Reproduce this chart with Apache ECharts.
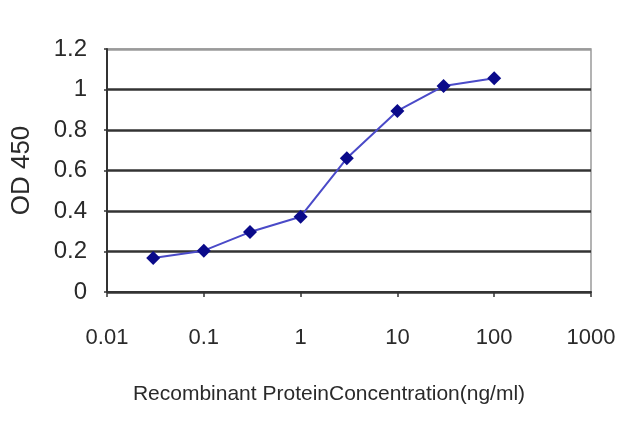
<!DOCTYPE html>
<html>
<head>
<meta charset="utf-8">
<script src="https://cdn.jsdelivr.net/npm/echarts@6/dist/echarts.min.js"></script>
<style>
  html, body { margin: 0; padding: 0; background: #fff; }
  #chart { width: 640px; height: 427px; }
</style>
</head>
<body>
<div id="chart"></div>
<script>
// concentration (ng/ml) and OD 450
let concentration = [0.03, 0.1, 0.3, 1, 3, 10, 30, 100];
let od450 = [0.168, 0.204, 0.296, 0.372, 0.66, 0.894, 1.017, 1.055];
let xTickLabels = ['0.01', '0.1', '1', '10', '100', '1000'];
let yTickLabels = ['0', '0.2', '0.4', '0.6', '0.8', '1', '1.2'];

let points = [];
for (var i = 0; i < concentration.length; i++) {
    points.push([concentration[i], od450[i]]);
}

let myChart = echarts.init(document.getElementById('chart'));
let font = 'Liberation Sans, Arial, sans-serif';

let option = {
    backgroundColor: '#fff',
    animation: false,
    grid: {
        left: 107, right: 49, top: 49, bottom: 135,
        show: true,
        borderColor: '#9a9a9a',
        borderWidth: 1.5
    },
    xAxis: {
        type: 'log',
        logBase: 10,
        min: 0.01,
        max: 1000,
        name: 'Recombinant ProteinConcentration(ng/ml)',
        nameLocation: 'middle',
        nameGap: 92,
        // title sits a little left of the plot centre in the original
        nameTextStyle: { fontFamily: font, fontSize: 21, color: '#2a2a2a', padding: [0, 40, 0, 0] },
        axisLine: { lineStyle: { color: '#333', width: 2 } },
        axisTick: { show: true, inside: false, length: 5, lineStyle: { color: '#333', width: 1.5 } },
        minorTick: { show: false },
        splitLine: { show: false },
        axisLabel: {
            margin: 35,
            fontFamily: font,
            fontSize: 22,
            color: '#2a2a2a',
            formatter: function (v) {
                var idx = Math.round(Math.log10(v)) + 2;
                return xTickLabels[idx] !== undefined ? xTickLabels[idx] : '';
            }
        }
    },
    yAxis: {
        type: 'value',
        min: 0,
        max: 1.2,
        interval: 0.2,
        name: 'OD 450',
        nameLocation: 'middle',
        nameGap: 72,
        nameTextStyle: { fontFamily: font, fontSize: 26, color: '#2a2a2a' },
        axisLine: { show: true, lineStyle: { color: '#333', width: 2 } },
        axisTick: { show: true, length: 3, lineStyle: { color: '#333', width: 1.5 } },
        splitLine: {
            show: true,
            lineStyle: {
                color: ['#333', '#333', '#333', '#333', '#333', '#333', '#9a9a9a'],
                width: 2.5
            }
        },
        axisLabel: {
            margin: 20,
            fontFamily: font,
            fontSize: 24,
            color: '#2a2a2a',
            formatter: function (v) {
                return yTickLabels[Math.round(v / 0.2)];
            }
        }
    },
    series: [
        {
            type: 'line',
            data: points,
            symbol: 'diamond',
            symbolSize: 14,
            itemStyle: { color: '#0a0a8a' },
            lineStyle: { color: '#4a4ac8', width: 2 }
        }
    ]
};

myChart.setOption(option);
</script>
</body>
</html>
